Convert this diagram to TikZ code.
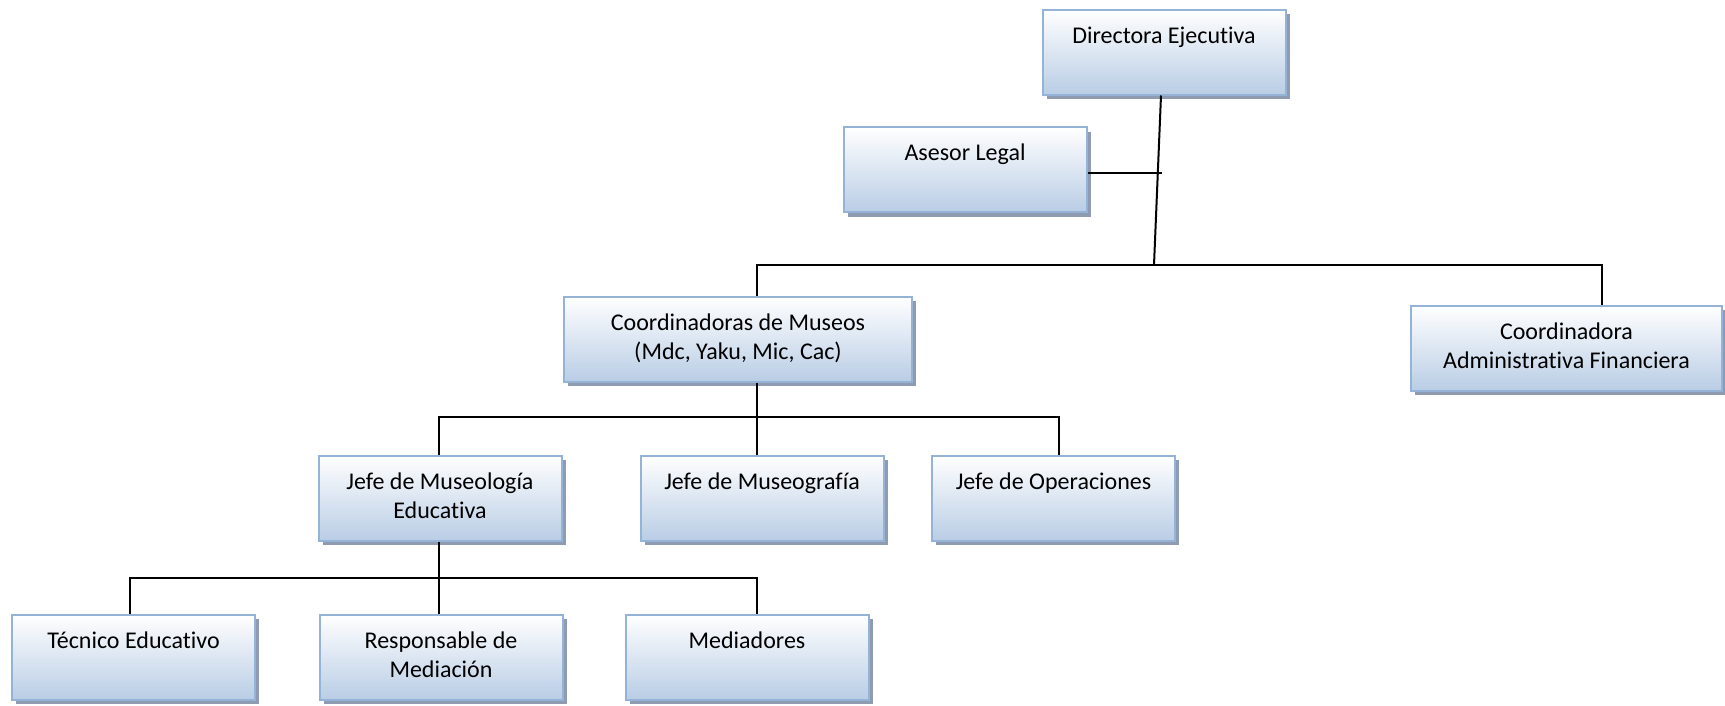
\documentclass[tikz,border=0pt]{standalone}
\usepackage{fontspec}
\setmainfont{Carlito}[Ligatures=NoCommon]
\usetikzlibrary{shadows}
\definecolor{marco}{RGB}{149,179,215}
\definecolor{celeste}{RGB}{185,205,229}
\definecolor{sombra}{RGB}{143,155,176}

\begin{document}
\begin{tikzpicture}[
    x=1pt, y=-1pt,
    cargo/.style={rectangle, draw=marco, line width=2pt, top color=white, bottom color=celeste, minimum width=243pt, minimum height=85pt, inner sep=0pt, drop shadow={shadow xshift=4pt, shadow yshift=-4.5pt, fill=sombra, opacity=1}},
    texto/.style={anchor=north, align=center, inner sep=0pt, yshift=-18pt, font=\fontsize{24}{29}\selectfont},
    enlace/.style={draw=black, line width=2pt}
]
    \useasboundingbox (0,0) rectangle (1725,705);

    % Direccion
    \node[cargo, label={[texto]north:Directora Ejecutiva}] (dir) at (1164,52) {};
    \node[cargo, label={[texto]north:Asesor Legal}] (ase) at (965,169.5) {};

    % Coordinaciones
    \node[cargo, minimum width=348pt, label={[texto]north:Coordinadoras de Museos\\(Mdc, Yaku, Mic, Cac)}] (cmu) at (738,339) {};
    \node[cargo, minimum width=311pt, label={[texto]north:Coordinadora\\Administrativa Financiera}] (caf) at (1566.5,348) {};

    % Jefaturas
    \node[cargo, label={[texto]north:Jefe de Museología\\Educativa}] (jme) at (440,498) {};
    \node[cargo, label={[texto]north:Jefe de Museografía}] (jmg) at (762,498) {};
    \node[cargo, label={[texto]north:Jefe de Operaciones}] (jop) at (1053.5,498) {};

    % Mediacion
    \node[cargo, label={[texto]north:Técnico Educativo}] (tec) at (133.5,657) {};
    \node[cargo, label={[texto]north:Responsable de\\Mediación}] (res) at (441,657) {};
    \node[cargo, label={[texto]north:Mediadores}] (med) at (747,657) {};

    % Conectores
    \coordinate (bus1) at (1154,265);
    \coordinate (bus2) at (757,417);
    \coordinate (bus3) at (439,578);
    \coordinate (cruce) at (1162,173);

    \draw[enlace] ([xshift=-3pt]dir.south) -- (bus1);
    \draw[enlace] ([yshift=-3.5pt]ase.east) -- (cruce);
    \draw[enlace] ([xshift=19pt]cmu.north) |- (bus1) -| ([xshift=35.5pt]caf.north);
    \draw[enlace] ([xshift=19pt]cmu.south) -- ([xshift=-5pt]jmg.north);
    \draw[enlace] ([xshift=-1pt]jme.north) |- (bus2) -| ([xshift=5.5pt]jop.north);
    \draw[enlace] ([xshift=-1pt]jme.south) -- ([xshift=-2pt]res.north);
    \draw[enlace] ([xshift=-3.5pt]tec.north) |- (bus3) -| ([xshift=10pt]med.north);
\end{tikzpicture}
\end{document}
